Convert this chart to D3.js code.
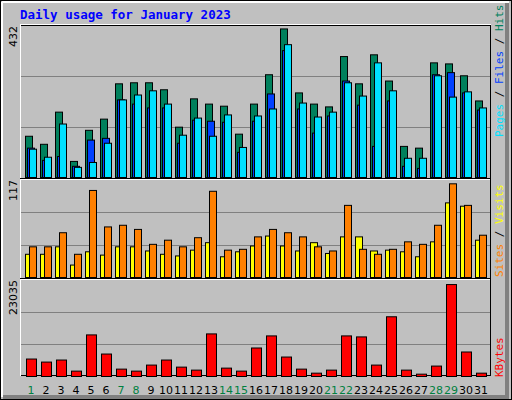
<!DOCTYPE html>
<html><head><meta charset="utf-8">
<script src="https://cdn.jsdelivr.net/npm/d3@7"></script>
<style>body{margin:0;background:#fff}</style>
</head><body>
<script>
const days = d3.range(1, 32);
const weekends = [1, 7, 8, 14, 15, 21, 22, 28, 29];
const hits  = [118,95,187,46,135,167,268,271,271,251,144,225,210,204,124,210,294,425,242,210,202,346,268,351,276,89,84,328,325,291,219];
const files = [84,49,60,32,107,112,222,210,199,199,98,164,161,158,72,161,239,363,196,127,176,276,207,89,219,32,26,294,300,242,193];
const pages = [81,58,153,29,43,98,222,236,248,210,121,170,118,179,86,176,196,380,213,173,187,271,233,328,248,55,55,291,230,245,199];
const sites  = [28,28,37,15,31,27,37,37,32,28,26,33,42,25,31,38,50,38,32,42,29,49,49,32,33,31,25,43,90,86,45];
const visits = [37,37,54,28,105,61,63,58,40,45,37,48,104,33,34,49,58,54,49,37,32,87,34,28,34,43,40,63,113,87,51];
const kbytes = [4190,3460,3950,1290,9980,5390,1770,1290,2740,3950,2250,1530,10220,2010,1290,6840,9740,4670,1770,800,1530,9740,9500,2740,14330,1530,560,2500,22060,5880,800];
const maxHits = 432, maxVisits = 117, maxKB = 23035;

const svg = d3.select("body").append("svg").attr("width", 512).attr("height", 400)
  .style("font-family", "'DejaVu Sans Mono', monospace");

// frame with 3D edge
svg.append("rect").attr("x", 0.5).attr("y", 0.5).attr("width", 511).attr("height", 399).attr("fill", "#c0c0c0").attr("stroke", "#000");
svg.append("path").attr("d", "M2,2 H509 M2,2 V397").attr("stroke", "#fff").attr("stroke-width", 2);
svg.append("path").attr("d", "M507,3 V397 H3").attr("stroke", "#808080").attr("stroke-width", 4).attr("fill", "none");

svg.append("text").attr("x", 20).attr("y", 19).text("Daily usage for January 2023")
  .attr("fill", "#0000ff").attr("font-weight", "bold").attr("font-size", 12.5);

const x = d3.scaleLinear().domain([1, 31]).range([25, 475]);

// plot frame
svg.append("rect").attr("x", 20.5).attr("y", 25.5).attr("width", 470).attr("height", 350)
  .attr("fill", "none").attr("stroke", "#000");
svg.append("path").attr("d", "M20,24.5 H491 M20.5,25 V376").attr("stroke", "#fff");

const panels = [
  {top: 26, bottom: 177, max: maxHits, label: "432"},
  {top: 180, bottom: 277, max: maxVisits, label: "117"},
  {top: 280, bottom: 376, max: maxKB, label: "23035"}
];
panels.forEach(p => {
  p.y = d3.scaleLinear().domain([0, p.max]).range([p.bottom, p.top]);
  [1, 2].forEach(i => {
    const gy = Math.round(p.bottom - (p.bottom - p.top) * i / 3) + 0.5;
    svg.append("line").attr("x1", 21).attr("x2", 490).attr("y1", gy).attr("y2", gy).attr("stroke", "#808080");
  });
  svg.append("text").attr("transform", `translate(17,${p.top}) rotate(-90)`).attr("text-anchor", "end")
    .attr("font-size", 11).attr("font-family", "'DejaVu Sans', sans-serif").text(p.label);
});
[178.5, 278.5].forEach(ly => svg.append("line").attr("x1", 20).attr("x2", 491).attr("y1", ly).attr("y2", ly).attr("stroke", "#000"));
[179.5, 279.5].forEach(ly => svg.append("line").attr("x1", 21).attr("x2", 490).attr("y1", ly).attr("y2", ly).attr("stroke", "#fff"));

function bars(data, panel, dx, w, color) {
  svg.append("g").selectAll("rect").data(data).join("rect")
    .attr("x", (d, i) => x(days[i]) + dx + 0.5)
    .attr("y", d => panel.y(d) + 0.5)
    .attr("width", w)
    .attr("height", d => panel.bottom - panel.y(d))
    .attr("fill", color).attr("stroke", "#000");
}
const [p1, p2, p3] = panels;
bars(hits, p1, 0, 7, "#00805c");
bars(files, p1, 2, 7, "#0040ff");
bars(pages, p1, 4, 7, "#00e0ff");
bars(sites, p2, 0, 7, "#ffff00");
bars(visits, p2, 4, 7, "#ff8000");
bars(kbytes, p3, 1, 10, "#ff0000");

// day labels
svg.append("g").selectAll("text").data(days).join("text")
  .attr("x", d => x(d) + 6).attr("y", 394).attr("text-anchor", "middle")
  .attr("font-size", 11).attr("font-family", "'DejaVu Sans', sans-serif")
  .attr("fill", d => weekends.includes(d) ? "#008040" : "#000").text(d => d);

// right side legends
function legend(parts, yBottom) {
  const t = svg.append("text").attr("transform", `translate(503,${yBottom}) rotate(-90)`).attr("font-size", 11);
  parts.forEach(([s, c]) => t.append("tspan").attr("fill", c).text(s));
}
legend([["Pages", "#00e0ff"], [" / ", "#000"], ["Files", "#0040ff"], [" / ", "#000"], ["Hits", "#00805c"]], 137);
legend([["Sites", "#ff8000"], [" / ", "#000"], ["Visits", "#ffff00"]], 277);
legend([["KBytes", "#ff0000"]], 377);
</script>
</body></html>
